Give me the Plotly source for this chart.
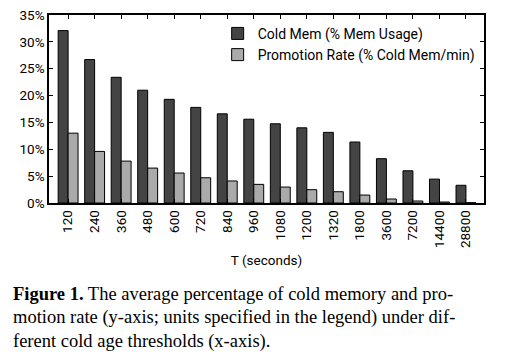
import plotly.graph_objects as go

categories = ["120", "240", "360", "480", "600", "720", "840", "960", "1080",
              "1200", "1320", "1800", "3600", "7200", "14400", "28800"]
cold_mem = [32.1, 26.7, 23.4, 21.0, 19.3, 17.8, 16.6, 15.6, 14.75,
            14.0, 13.15, 11.35, 8.25, 6.0, 4.45, 3.3]
promotion_rate = [13.0, 9.6, 7.8, 6.5, 5.58, 4.7, 4.1, 3.47, 2.97,
                  2.48, 2.1, 1.48, 0.74, 0.37, 0.18, 0.06]
y_ticks = [0, 5, 10, 15, 20, 25, 30, 35]
y_tick_labels = [f"{v}%" for v in y_ticks]

FONT = "Roboto"
FS = 13.5

fig = go.Figure()
fig.add_trace(go.Bar(
    x=categories, y=cold_mem, name="Cold Mem (% Mem Usage)",
    marker=dict(color="#444444", line=dict(color="#000000", width=1)),
))
fig.add_trace(go.Bar(
    x=categories, y=promotion_rate, name="Promotion Rate (% Cold Mem/min)",
    marker=dict(color="#aaaaaa", line=dict(color="#000000", width=1)),
))

fig.update_layout(
    width=505, height=359,
    margin=dict(l=49, r=21, t=15, b=156),
    paper_bgcolor="white", plot_bgcolor="white",
    barmode="group", bargap=0.25, bargroupgap=0,
    font=dict(family=FONT, size=FS, color="#000000"),
    showlegend=True,
    legend=dict(x=0.99, y=0.985, xanchor="right", yanchor="top",
                bgcolor="rgba(0,0,0,0)", font=dict(family=FONT, size=14),
                itemwidth=30, tracegroupgap=0),
    xaxis=dict(
        type="category", range=[-0.72, 15.68],
        tickangle=-90, tickfont=dict(family=FONT, size=FS),
        ticks="inside", ticklen=4, tickcolor="#000000",
        showline=True, linecolor="#000000", linewidth=1.5, mirror="ticks",
        title=dict(text="T (seconds)", font=dict(family=FONT, size=FS), standoff=8),
        showgrid=False, automargin=False,
    ),
    yaxis=dict(
        range=[0, 35], tickvals=y_ticks, ticktext=y_tick_labels,
        tickfont=dict(family=FONT, size=FS),
        ticks="inside", ticklen=4, tickcolor="#000000",
        showline=True, linecolor="#000000", linewidth=1.5, mirror="ticks",
        showgrid=False, zeroline=False, automargin=False,
    ),
)

caption_lines = [
    "<b>Figure 1.</b> The average percentage of cold memory and pro-",
    "motion rate (y-axis; units specified in the legend) under dif-",
    "ferent cold age thresholds (x-axis).",
]
caption_y = [294, 317, 341]
for line, yy in zip(caption_lines, caption_y):
    fig.add_annotation(
        text=line, xref="paper", yref="paper",
        x=(11 - 49) / 435, y=(359 - 156 - yy) / 188,
        xanchor="left", yanchor="middle", showarrow=False,
        font=dict(family="Liberation Serif", size=18.5, color="#000000"),
    )

fig.write_html("out.html", config={"displayModeBar": False},
               post_script="document.body.style.margin='0';")
